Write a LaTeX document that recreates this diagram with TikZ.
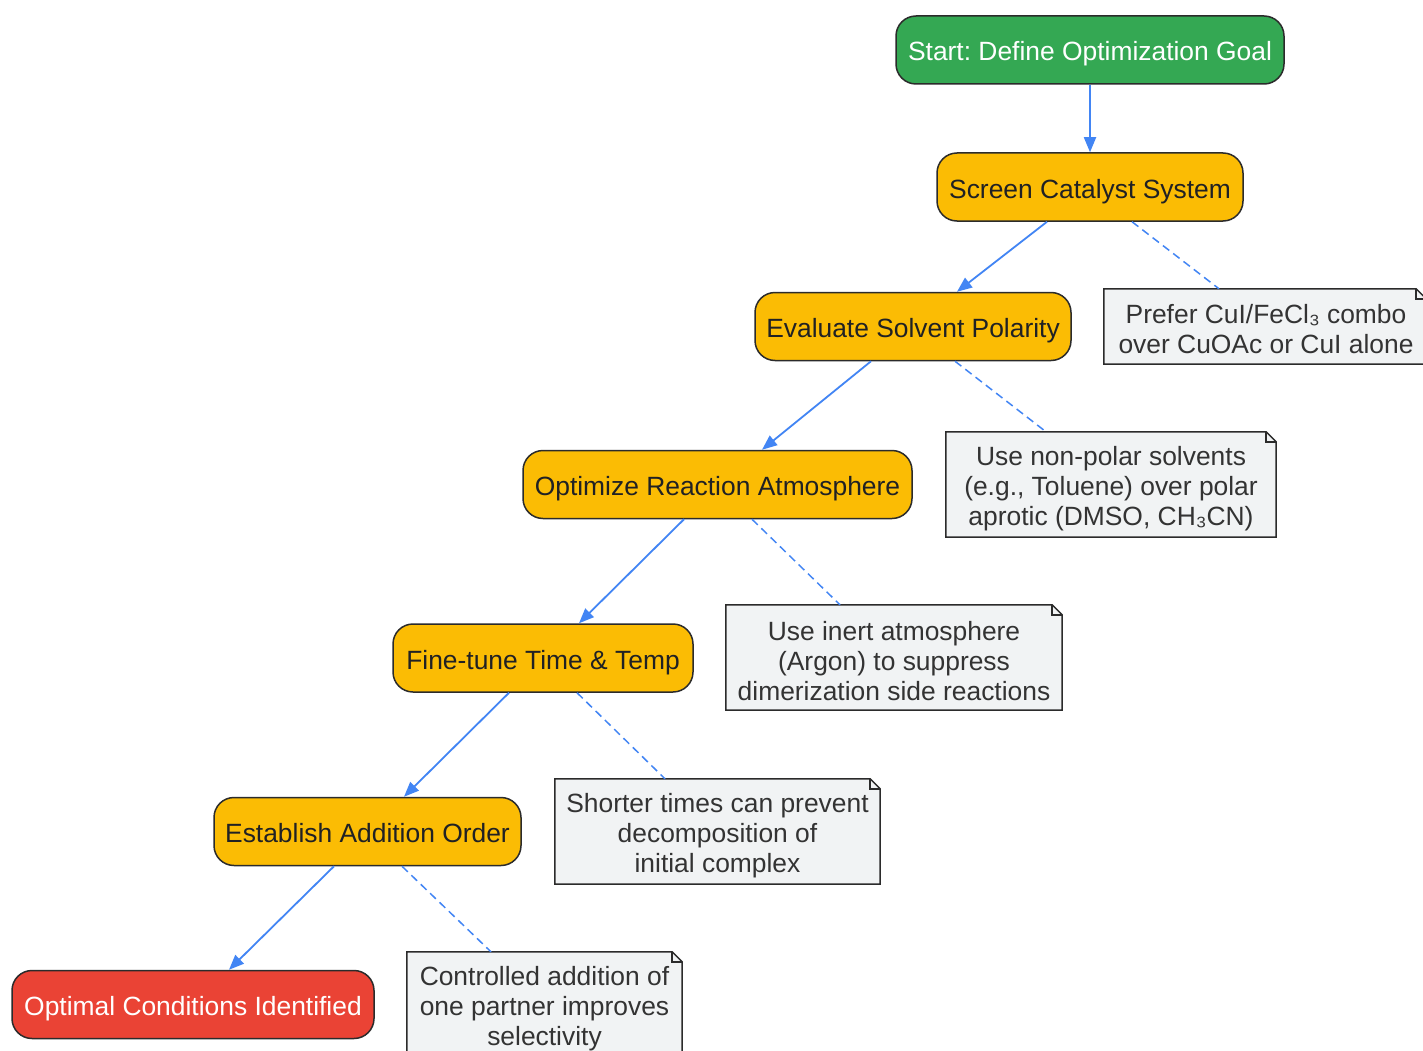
\documentclass[tikz,border=0pt]{standalone}
\usepackage{fontspec}
\setmainfont{Liberation Sans}
\frenchspacing
\usetikzlibrary{arrows.meta}
\definecolor{cgreen}{HTML}{34A853}
\definecolor{cyellow}{HTML}{FBBC04}
\definecolor{cred}{HTML}{EA4335}
\definecolor{cnote}{HTML}{F1F3F4}
\definecolor{cblue}{HTML}{4285F4}
\definecolor{cborder}{HTML}{2B2B2B}
\definecolor{ctext}{HTML}{202124}
\definecolor{cnotetext}{HTML}{333333}
\tikzset{
  proc/.style={draw=cborder, line width=1.5pt, rounded corners=20pt, minimum height=68pt,
    inner sep=0pt, text height=22pt, text depth=0pt,
    font=\fontsize{26.4}{30}\selectfont, text=ctext, fill=cyellow},
  startbox/.style={proc, fill=cgreen, text=white},
  endbox/.style={proc, fill=cred, text=white},
  notebox/.style={fill=cnote, inner sep=0pt, minimum height=105pt},
  notetext/.style={inner sep=0pt, align=center,
    font=\fontsize{26.4}{30}\selectfont, text=cnotetext},
  noteline/.style={draw=cborder, line width=1.5pt, line join=miter},
  flow/.style={draw=cblue, line width=1.8pt, -{Triangle[length=15pt,width=12pt]}},
  hint/.style={draw=cblue, line width=1.5pt, dash pattern=on 8pt off 5pt},
}
\newcommand{\notedraw}[1]{%
  \fill[white] ([xshift=-10pt]#1.north east) -- (#1.north east) -- ([yshift=-10pt]#1.north east) -- cycle;
  \draw[noteline] (#1.north west) -- ([xshift=-10pt]#1.north east) -- ([yshift=-10pt]#1.north east)
    -- (#1.south east) -- (#1.south west) -- cycle;
  \draw[noteline] ([xshift=-10pt]#1.north east) -- ([xshift=-10pt,yshift=-10pt]#1.north east)
    -- ([yshift=-10pt]#1.north east);
}
\begin{document}
\begin{tikzpicture}[x=1pt,y=-1pt]
\useasboundingbox (0,0) rectangle (1423,1051);
\fill[white] (0,0) rectangle (1423,1051);

\node[startbox, minimum width=388pt] (start) at (1090,50) {Start: Define Optimization Goal};
\node[proc, minimum width=306pt] (screen) at (1090,187) {Screen Catalyst System};
\node[proc, minimum width=316pt] (eval) at (913,326.5) {Evaluate Solvent Polarity};
\node[proc, minimum width=389pt] (atmos) at (717.5,484.5) {Optimize Reaction Atmosphere};
\node[proc, minimum width=300pt] (fine) at (543,658) {Fine-tune Time \& Temp};
\node[proc, minimum width=307pt] (order) at (367.5,831.5) {Establish Addition Order};
\node[endbox, minimum width=362pt] (final) at (193,1004.5) {Optimal Conditions Identified};

\node[notebox, minimum width=322pt, minimum height=75pt] (n1) at (1265,326.5) {};
\node[notebox, minimum width=330pt] (n2) at (1111,484.5) {};
\node[notebox, minimum width=336pt] (n3) at (894,657.5) {};
\node[notebox, minimum width=325pt] (n4) at (717.5,831.5) {};
\node[notebox, minimum width=275pt] (n5) at (544.5,1004.5) {};
\notedraw{n1}
\notedraw{n2}
\notedraw{n3}
\notedraw{n4}
\notedraw{n5}
\node[notetext] (t1) at ([xshift=1pt,yshift=-3pt]n1.center) {Prefer CuI/FeCl₃ combo\\over CuOAc or CuI alone};
\node[notetext] (t2) at ([yshift=-4pt]n2.center) {Use non-polar solvents\\(e.g., Toluene) over polar\\aprotic (DMSO, CH₃CN)};
\node[notetext] (t3) at ([yshift=-4pt]n3.center) {Use inert atmosphere\\(Argon) to suppress\\dimerization side reactions};
\node[notetext] (t4) at ([yshift=-4pt]n4.center) {Shorter times can prevent\\decomposition of\\initial complex};
\node[notetext] (t5) at ([yshift=-4pt]n5.center) {Controlled addition of\\one partner improves\\selectivity};

\draw[flow] (start.south) -- (screen.north);
\draw[flow] ([xshift=-43pt]screen.south) -- ([xshift=44pt]eval.north);
\draw[flow] ([xshift=-42pt]eval.south) -- ([xshift=44.5pt]atmos.north);
\draw[flow] ([xshift=-33.5pt]atmos.south) -- ([xshift=36pt]fine.north);
\draw[flow] ([xshift=-34pt]fine.south) -- ([xshift=36.5pt]order.north);
\draw[flow] ([xshift=-33.5pt]order.south) -- ([xshift=36pt]final.north);

\draw[hint] ([xshift=42pt]screen.south) -- ([xshift=-46pt]n1.north);
\draw[hint] ([xshift=42pt]eval.south) -- ([xshift=-65pt]n2.north);
\draw[hint] ([xshift=34.5pt]atmos.south) -- ([xshift=-54pt]n3.north);
\draw[hint] ([xshift=34pt]fine.south) -- ([xshift=-52.5pt]n4.north);
\draw[hint] ([xshift=34.5pt]order.south) -- ([xshift=-53.5pt]n5.north);
\end{tikzpicture}
\end{document}
